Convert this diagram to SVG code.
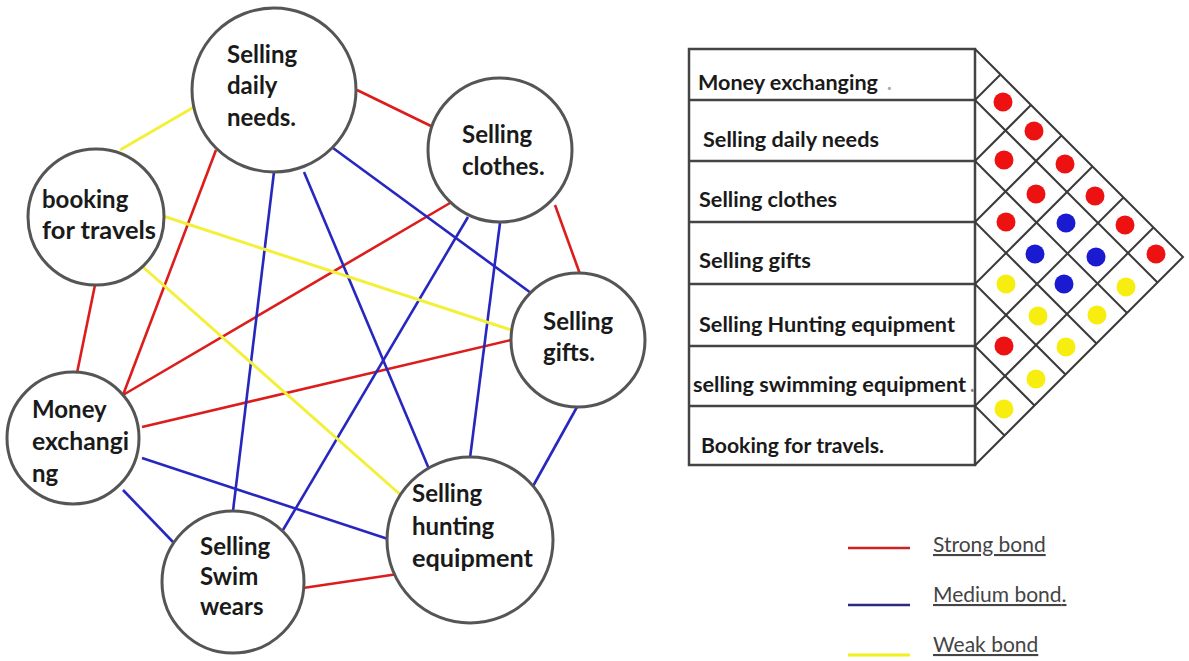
<svg xmlns="http://www.w3.org/2000/svg" width="1189" height="661" viewBox="0 0 1189 661">
<style>
.bg{fill:#fff}
.node{fill:#fff;stroke:#555;stroke-width:3}
.nt{font-family:Lato,"Liberation Sans",sans-serif;font-size:24px;font-weight:bold;fill:#1a1a1a}
.s{stroke:#dd1c1c;stroke-width:2.6;fill:none}
.m{stroke:#2727c0;stroke-width:2.6;fill:none}
.w{stroke:#f2f03a;stroke-width:3;fill:none}
.cell{fill:none;stroke:#444;stroke-width:2.5}
.grid{stroke:#3a3a3a;stroke-width:2;fill:none}
.tt{font-family:Lato,"Liberation Sans",sans-serif;font-size:20px;font-weight:bold;fill:#1a1a1a}
.dr{fill:#ee1111}.db{fill:#1a1ad0}.dy{fill:#f7ee10}
.lg{font-family:Lato,"Liberation Sans",sans-serif;font-size:21px;fill:#444;text-decoration:underline}
</style>
<rect class="bg" x="0" y="0" width="1189" height="661"/>
<g id="connectors">
  <line class="s" x1="357" y1="90" x2="433" y2="127"/>
  <line class="s" x1="555" y1="205" x2="580" y2="274"/>
  <line class="s" x1="95" y1="285" x2="77" y2="373"/>
  <line class="s" x1="123" y1="395" x2="216" y2="150"/>
  <line class="s" x1="123" y1="395" x2="450" y2="203"/>
  <line class="s" x1="142" y1="427" x2="511" y2="340"/>
  <line class="s" x1="303" y1="588" x2="398" y2="574"/>
  <line class="m" x1="333" y1="148" x2="531" y2="293"/>
  <line class="m" x1="274" y1="172" x2="233" y2="511"/>
  <line class="m" x1="304" y1="172" x2="429" y2="469"/>
  <line class="m" x1="468" y1="217" x2="283" y2="530"/>
  <line class="m" x1="500" y1="223" x2="470" y2="458"/>
  <line class="m" x1="577" y1="407" x2="532" y2="488"/>
  <line class="m" x1="123" y1="490" x2="173" y2="542"/>
  <line class="m" x1="142" y1="458" x2="388" y2="539"/>
  <line class="w" x1="120" y1="150" x2="194" y2="107"/>
  <line class="w" x1="163" y1="216" x2="511" y2="330"/>
  <line class="w" x1="143" y1="267" x2="403" y2="497"/>
</g>
<g id="node-daily">
  <circle class="node" cx="274" cy="90" r="82"/>
  <text class="nt" x="227" y="63">Selling</text>
  <text class="nt" x="227" y="94">daily</text>
  <text class="nt" x="227" y="126">needs.</text>
</g>
<g id="node-booking">
  <circle class="node" cx="96" cy="217" r="68"/>
  <text class="nt" x="42" y="208">booking</text>
  <text class="nt" x="42" y="239" textLength="114" lengthAdjust="spacingAndGlyphs">for travels</text>
</g>
<g id="node-clothes">
  <circle class="node" cx="500" cy="150" r="72"/>
  <text class="nt" x="462" y="143">Selling</text>
  <text class="nt" x="462" y="175">clothes.</text>
</g>
<g id="node-gifts">
  <circle class="node" cx="578" cy="340" r="67"/>
  <text class="nt" x="543" y="330">Selling</text>
  <text class="nt" x="543" y="361">gifts.</text>
</g>
<g id="node-money">
  <circle class="node" cx="73" cy="438" r="66"/>
  <text class="nt" x="32" y="418">Money</text>
  <text class="nt" x="32" y="450" textLength="97" lengthAdjust="spacingAndGlyphs">exchangi</text>
  <text class="nt" x="32" y="482">ng</text>
</g>
<g id="node-swim">
  <circle class="node" cx="233" cy="582" r="71"/>
  <text class="nt" x="200" y="555">Selling</text>
  <text class="nt" x="200" y="585">Swim</text>
  <text class="nt" x="200" y="615">wears</text>
</g>
<g id="node-hunting">
  <circle class="node" cx="470" cy="540" r="83"/>
  <text class="nt" x="412" y="502">Selling</text>
  <text class="nt" x="412" y="535">hunting</text>
  <text class="nt" x="412" y="567" textLength="121" lengthAdjust="spacingAndGlyphs">equipment</text>
</g>
<g id="table">
  <rect class="cell" x="689" y="49" width="286" height="416"/>
  <line class="cell" x1="689" y1="100" x2="975" y2="100"/>
  <line class="cell" x1="689" y1="161" x2="975" y2="161"/>
  <line class="cell" x1="689" y1="222" x2="975" y2="222"/>
  <line class="cell" x1="689" y1="284" x2="975" y2="284"/>
  <line class="cell" x1="689" y1="346" x2="975" y2="346"/>
  <line class="cell" x1="689" y1="406" x2="975" y2="406"/>
  <text class="tt" x="698" y="90" textLength="180" lengthAdjust="spacingAndGlyphs">Money exchanging</text>
  <text class="tt" x="887" y="90" style="fill:#aaa">.</text>
  <text class="tt" x="703" y="147" textLength="176" lengthAdjust="spacingAndGlyphs">Selling daily needs</text>
  <text class="tt" x="699" y="207" textLength="138" lengthAdjust="spacingAndGlyphs">Selling clothes</text>
  <text class="tt" x="699" y="268" textLength="112" lengthAdjust="spacingAndGlyphs">Selling gifts</text>
  <text class="tt" x="699" y="332" textLength="256" lengthAdjust="spacingAndGlyphs">Selling Hunting equipment</text>
  <text class="tt" x="693" y="392" textLength="273" lengthAdjust="spacingAndGlyphs">selling swimming equipment</text>
  <text class="tt" x="970" y="392" style="fill:#888">.</text>
  <text class="tt" x="701" y="453" textLength="183" lengthAdjust="spacingAndGlyphs">Booking for travels.</text>
</g>
<g id="matrix">
  <polyline class="grid" points="975,49 1183,257 975,465"/>
  <line class="grid" x1="975" y1="100" x2="1000.5" y2="74.5"/>
  <line class="grid" x1="975" y1="161" x2="1031" y2="105"/>
  <line class="grid" x1="975" y1="222" x2="1061.5" y2="135.5"/>
  <line class="grid" x1="975" y1="284" x2="1092.5" y2="166.5"/>
  <line class="grid" x1="975" y1="346" x2="1123.5" y2="197.5"/>
  <line class="grid" x1="975" y1="406" x2="1153.5" y2="227.5"/>
  <line class="grid" x1="975" y1="100" x2="1157.5" y2="282.5"/>
  <line class="grid" x1="975" y1="161" x2="1127" y2="313"/>
  <line class="grid" x1="975" y1="222" x2="1096.5" y2="343.5"/>
  <line class="grid" x1="975" y1="284" x2="1065.5" y2="374.5"/>
  <line class="grid" x1="975" y1="346" x2="1034.5" y2="405.5"/>
  <line class="grid" x1="975" y1="406" x2="1004.5" y2="435.5"/>
  <circle class="dr" cx="1003" cy="102" r="9.5"/>
  <circle class="dr" cx="1034" cy="131" r="9.5"/>
  <circle class="dr" cx="1004" cy="160" r="9.5"/>
  <circle class="dr" cx="1065" cy="164" r="9.5"/>
  <circle class="dr" cx="1036" cy="194" r="9.5"/>
  <circle class="dr" cx="1095" cy="196" r="9.5"/>
  <circle class="dr" cx="1006" cy="222" r="9.5"/>
  <circle class="db" cx="1066" cy="223" r="9.5"/>
  <circle class="dr" cx="1125" cy="225" r="9.5"/>
  <circle class="db" cx="1035" cy="254" r="9.5"/>
  <circle class="db" cx="1096" cy="257" r="9.5"/>
  <circle class="dr" cx="1156" cy="254" r="9.5"/>
  <circle class="dy" cx="1006" cy="284" r="9.5"/>
  <circle class="db" cx="1064" cy="284" r="9.5"/>
  <circle class="dy" cx="1126" cy="287" r="9.5"/>
  <circle class="dy" cx="1038" cy="316" r="9.5"/>
  <circle class="dy" cx="1097" cy="315" r="9.5"/>
  <circle class="dr" cx="1004" cy="346" r="9.5"/>
  <circle class="dy" cx="1066" cy="347" r="9.5"/>
  <circle class="dy" cx="1036" cy="379" r="9.5"/>
  <circle class="dy" cx="1004" cy="409" r="9.5"/>
</g>
<g id="legend">
  <line x1="848" y1="548" x2="910" y2="548" stroke="#cc2222" stroke-width="2.5"/>
  <line x1="848" y1="605" x2="910" y2="605" stroke="#2a2a80" stroke-width="2.5"/>
  <line x1="848" y1="655" x2="910" y2="655" stroke="#f2f020" stroke-width="3"/>
  <text class="lg" x="933" y="552">Strong bond</text>
  <text class="lg" x="933" y="602">Medium bond<tspan style="text-decoration:none">.</tspan></text>
  <text class="lg" x="933" y="652">Weak bond</text>
</g>
</svg>
